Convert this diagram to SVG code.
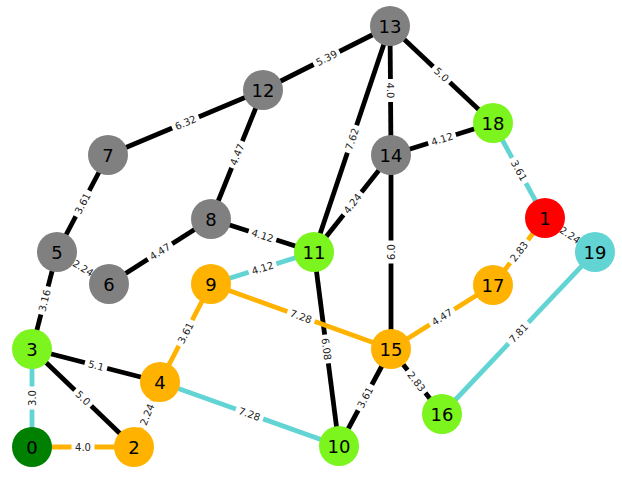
<svg xmlns="http://www.w3.org/2000/svg" width="622" height="481" viewBox="0 0 622 481">
<style>
.e{stroke-width:4.8;fill:none}
.k{stroke:#000}
.o{stroke:#FFB300}
.t{stroke:#62D4D4}
.lb use{fill:#fff;stroke:none}
.lb text{font-family:"DejaVu Sans",sans-serif;font-size:10px;fill:#222;text-anchor:middle}
.n circle{stroke:none}
.n text{font-family:"DejaVu Sans",sans-serif;font-size:18px;fill:#000;text-anchor:middle}
.gray{fill:#808080}.lg{fill:#7CF41E}.dg{fill:#008000}.or{fill:#FFB300}.rd{fill:#FF0000}.tl{fill:#62D4D4}
</style>
<defs>
<rect id="b4" x="-14.5" y="-8" width="29" height="16" rx="3"/>
<rect id="b3" x="-11.5" y="-8" width="23" height="16" rx="3"/>
</defs>
<g id="edges">
<line class="e k" x1="263" y1="90" x2="390" y2="26"/>
<line class="e k" x1="108" y1="155" x2="263" y2="90"/>
<line class="e k" x1="263" y1="90" x2="211" y2="219"/>
<line class="e k" x1="108" y1="155" x2="57" y2="252"/>
<line class="e k" x1="57" y1="252" x2="109" y2="284"/>
<line class="e k" x1="109" y1="284" x2="211" y2="219"/>
<line class="e k" x1="211" y1="219" x2="314" y2="252"/>
<line class="e k" x1="390" y1="26" x2="391" y2="155"/>
<line class="e k" x1="390" y1="26" x2="493" y2="123"/>
<line class="e k" x1="390" y1="26" x2="314" y2="252"/>
<line class="e k" x1="391" y1="155" x2="493" y2="123"/>
<line class="e k" x1="391" y1="155" x2="314" y2="252"/>
<line class="e k" x1="391" y1="155" x2="391" y2="349"/>
<line class="e t" x1="493" y1="123" x2="545" y2="218"/>
<line class="e k" x1="545" y1="218" x2="595" y2="252"/>
<line class="e o" x1="545" y1="218" x2="493" y2="285"/>
<line class="e t" x1="314" y1="252" x2="211" y2="284"/>
<line class="e k" x1="314" y1="252" x2="339" y2="446"/>
<line class="e o" x1="211" y1="284" x2="391" y2="349"/>
<line class="e o" x1="211" y1="284" x2="160" y2="382"/>
<line class="e k" x1="57" y1="252" x2="32" y2="349"/>
<line class="e k" x1="32" y1="349" x2="160" y2="382"/>
<line class="e k" x1="32" y1="349" x2="134" y2="447"/>
<line class="e t" x1="32" y1="349" x2="32" y2="447"/>
<line class="e o" x1="32" y1="447" x2="134" y2="447"/>
<line class="e o" x1="160" y1="382" x2="134" y2="447"/>
<line class="e t" x1="160" y1="382" x2="339" y2="446"/>
<line class="e o" x1="391" y1="349" x2="493" y2="285"/>
<line class="e k" x1="391" y1="349" x2="339" y2="446"/>
<line class="e k" x1="391" y1="349" x2="442" y2="414"/>
<line class="e t" x1="442" y1="414" x2="595" y2="252"/>
</g>
<g id="edge-labels">
<g class="lb" transform="translate(326.5,58) rotate(-26.7)"><use href="#b4"/><text dy="3.6">5.39</text></g>
<g class="lb" transform="translate(185.5,122.5) rotate(-22.8)"><use href="#b4"/><text dy="3.6">6.32</text></g>
<g class="lb" transform="translate(237,154.5) rotate(-68)"><use href="#b4"/><text dy="3.6">4.47</text></g>
<g class="lb" transform="translate(82.5,203.5) rotate(-62.3)"><use href="#b4"/><text dy="3.6">3.61</text></g>
<g class="lb" transform="translate(83,268) rotate(31.6)"><use href="#b4"/><text dy="3.6">2.24</text></g>
<g class="lb" transform="translate(160,251.5) rotate(-32.5)"><use href="#b4"/><text dy="3.6">4.47</text></g>
<g class="lb" transform="translate(262.5,235.5) rotate(17.8)"><use href="#b4"/><text dy="3.6">4.12</text></g>
<g class="lb" transform="translate(390.5,90.5) rotate(89.6)"><use href="#b3"/><text dy="3.6">4.0</text></g>
<g class="lb" transform="translate(441.5,74.5) rotate(43.3)"><use href="#b3"/><text dy="3.6">5.0</text></g>
<g class="lb" transform="translate(352,139) rotate(-71.4)"><use href="#b4"/><text dy="3.6">7.62</text></g>
<g class="lb" transform="translate(442,139) rotate(-17.4)"><use href="#b4"/><text dy="3.6">4.12</text></g>
<g class="lb" transform="translate(352.5,203.5) rotate(-51.6)"><use href="#b4"/><text dy="3.6">4.24</text></g>
<g class="lb" transform="translate(391,252) rotate(-90)"><use href="#b3"/><text dy="3.6">6.0</text></g>
<g class="lb" transform="translate(519,170.5) rotate(61.3)"><use href="#b4"/><text dy="3.6">3.61</text></g>
<g class="lb" transform="translate(570,235) rotate(34.2)"><use href="#b4"/><text dy="3.6">2.24</text></g>
<g class="lb" transform="translate(519,251.5) rotate(-52.2)"><use href="#b4"/><text dy="3.6">2.83</text></g>
<g class="lb" transform="translate(262.5,268) rotate(-17.3)"><use href="#b4"/><text dy="3.6">4.12</text></g>
<g class="lb" transform="translate(326.5,349) rotate(82.7)"><use href="#b4"/><text dy="3.6">6.08</text></g>
<g class="lb" transform="translate(301,316.5) rotate(19.9)"><use href="#b4"/><text dy="3.6">7.28</text></g>
<g class="lb" transform="translate(185.5,333) rotate(-62.5)"><use href="#b4"/><text dy="3.6">3.61</text></g>
<g class="lb" transform="translate(44.5,300.5) rotate(-75.5)"><use href="#b4"/><text dy="3.6">3.16</text></g>
<g class="lb" transform="translate(96,365.5) rotate(14.5)"><use href="#b3"/><text dy="3.6">5.1</text></g>
<g class="lb" transform="translate(83,398) rotate(43.9)"><use href="#b3"/><text dy="3.6">5.0</text></g>
<g class="lb" transform="translate(32,398) rotate(-90)"><use href="#b3"/><text dy="3.6">3.0</text></g>
<g class="lb" transform="translate(83,447)"><use href="#b3"/><text dy="3.6">4.0</text></g>
<g class="lb" transform="translate(147,414.5) rotate(-68.2)"><use href="#b4"/><text dy="3.6">2.24</text></g>
<g class="lb" transform="translate(249.5,414) rotate(19.7)"><use href="#b4"/><text dy="3.6">7.28</text></g>
<g class="lb" transform="translate(442,317) rotate(-32.1)"><use href="#b4"/><text dy="3.6">4.47</text></g>
<g class="lb" transform="translate(365,397.5) rotate(-61.8)"><use href="#b4"/><text dy="3.6">3.61</text></g>
<g class="lb" transform="translate(416.5,381.5) rotate(51.9)"><use href="#b4"/><text dy="3.6">2.83</text></g>
<g class="lb" transform="translate(518.5,333) rotate(-46.6)"><use href="#b4"/><text dy="3.6">7.81</text></g>
</g>
<g id="node-0" class="n"><circle class="dg" cx="32" cy="447" r="20"/><text x="32" y="453.5">0</text></g>
<g id="node-1" class="n"><circle class="rd" cx="545" cy="218" r="20"/><text x="545" y="224.5">1</text></g>
<g id="node-2" class="n"><circle class="or" cx="134" cy="447" r="20"/><text x="134" y="453.5">2</text></g>
<g id="node-3" class="n"><circle class="lg" cx="32" cy="349" r="20"/><text x="32" y="355.5">3</text></g>
<g id="node-4" class="n"><circle class="or" cx="160" cy="382" r="20"/><text x="160" y="388.5">4</text></g>
<g id="node-5" class="n"><circle class="gray" cx="57" cy="252" r="20"/><text x="57" y="258.5">5</text></g>
<g id="node-6" class="n"><circle class="gray" cx="109" cy="284" r="20"/><text x="109" y="290.5">6</text></g>
<g id="node-7" class="n"><circle class="gray" cx="108" cy="155" r="20"/><text x="108" y="161.5">7</text></g>
<g id="node-8" class="n"><circle class="gray" cx="211" cy="219" r="20"/><text x="211" y="225.5">8</text></g>
<g id="node-9" class="n"><circle class="or" cx="211" cy="284" r="20"/><text x="211" y="290.5">9</text></g>
<g id="node-10" class="n"><circle class="lg" cx="339" cy="446" r="20"/><text x="339" y="452.5">10</text></g>
<g id="node-11" class="n"><circle class="lg" cx="314" cy="252" r="20"/><text x="314" y="258.5">11</text></g>
<g id="node-12" class="n"><circle class="gray" cx="263" cy="90" r="20"/><text x="263" y="96.5">12</text></g>
<g id="node-13" class="n"><circle class="gray" cx="390" cy="26" r="20"/><text x="390" y="32.5">13</text></g>
<g id="node-14" class="n"><circle class="gray" cx="391" cy="155" r="20"/><text x="391" y="161.5">14</text></g>
<g id="node-15" class="n"><circle class="or" cx="391" cy="349" r="20"/><text x="391" y="355.5">15</text></g>
<g id="node-16" class="n"><circle class="lg" cx="442" cy="414" r="20"/><text x="442" y="420.5">16</text></g>
<g id="node-17" class="n"><circle class="or" cx="493" cy="285" r="20"/><text x="493" y="291.5">17</text></g>
<g id="node-18" class="n"><circle class="lg" cx="493" cy="123" r="20"/><text x="493" y="129.5">18</text></g>
<g id="node-19" class="n"><circle class="tl" cx="595" cy="252" r="20"/><text x="595" y="258.5">19</text></g>
</svg>
